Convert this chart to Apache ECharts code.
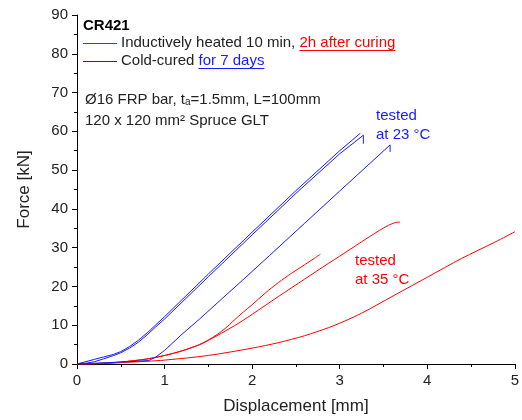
<!DOCTYPE html>
<html>
<head>
<meta charset="utf-8">
<script src="https://cdn.jsdelivr.net/npm/echarts@6/dist/echarts.min.js"></script>
<style>
  html, body { margin: 0; padding: 0; background: #fff; }
  #chart { width: 522px; height: 420px; }
</style>
</head>
<body>
<div id="chart"></div>
<script>
// displacement [mm], force [kN]
var coldA = [[0,0],[0.1,0.6],[0.2,1.2],[0.3,1.8],[0.42,2.5],[0.5,3.2],[0.6,4.5],[0.7,6.1],[0.8,8.0],[0.9,10.1],[1.0,12.2],[1.5,23.2],[2.0,34.0],[2.5,44.7],[3.0,55.0],[3.235,59.5]];
var coldB = [[0,0],[0.1,0.2],[0.2,0.6],[0.3,1.3],[0.42,2.2],[0.5,2.9],[0.6,4.1],[0.7,5.6],[0.8,7.5],[0.9,9.6],[1.0,11.6],[1.5,22.5],[2.0,33.3],[2.5,44.0],[3.0,54.2],[3.27,59.0],[3.27,56.8]];
var coldC = [[0,0],[0.2,0.2],[0.4,0.4],[0.6,0.6],[0.82,0.9],[0.9,1.8],[1.0,3.5],[1.2,7.7],[1.4,11.6],[1.6,15.7],[1.89,21.6],[2.2,28.0],[2.6,36.3],[3.0,44.6],[3.3,50.8],[3.576,56.5],[3.576,54.7]];
var heatA = [[0,0],[0.1,0],[0.3,0.2],[0.5,0.5],[0.8,1.3],[1.0,2.2],[1.2,3.4],[1.4,5.0],[1.5,6.2],[1.6,7.6],[1.7,9.3],[1.78,11.0],[1.9,13.4],[2.0,15.3],[2.15,18.3],[2.3,21.0],[2.45,23.4],[2.6,25.6],[2.7,27.1],[2.78,28.3]];
var heatB = [[0,0],[0.1,0],[0.3,0.2],[0.5,0.5],[0.8,1.3],[1.0,2.2],[1.2,3.4],[1.4,5.0],[1.5,6.1],[1.6,7.3],[1.7,8.6],[1.8,9.9],[1.9,11.3],[2.0,12.8],[2.15,15.1],[2.3,17.4],[2.6,21.9],[2.875,26.0],[3.0,27.8],[3.25,31.5],[3.45,34.4],[3.56,35.8],[3.64,36.5],[3.69,36.6]];
var heatC = [[0,0],[0.3,0.1],[0.5,0.35],[0.8,0.7],[1.0,1.0],[1.5,2.2],[2.0,4.1],[2.3,5.5],[2.6,7.3],[2.875,9.4],[3.06,11.1],[3.25,13.1],[3.63,17.8],[4.01,22.5],[4.39,27.2],[4.77,31.4],[5.0,34.1]];

var RED = '#ff0000';
var BLUE = '#1a1aff';
var FONT = 'Liberation Sans';
var FS = 15;

var chart = echarts.init(document.getElementById('chart'));

function curve(data, color, smooth) {
  return {
    type: 'line', data: data, showSymbol: false, smooth: smooth,
    lineStyle: {color: color, width: 1}, silent: true, animation: false
  };
}

function axisBase() {
  return {
    type: 'value',
    axisLine: {show: true, lineStyle: {color: '#000', width: 1}},
    axisTick: {show: true, inside: false, length: 5, lineStyle: {color: '#000'}},
    minorTick: {show: true, splitNumber: 2, length: 3, lineStyle: {color: '#000'}},
    splitLine: {show: false},
    axisLabel: {color: '#222', fontSize: 15, fontFamily: FONT, margin: 9},
    nameLocation: 'middle',
    nameTextStyle: {color: '#222', fontSize: 17, fontFamily: FONT}
  };
}

var xAxis = axisBase();
xAxis.min = 0; xAxis.max = 5; xAxis.interval = 1;
xAxis.name = 'Displacement [mm]'; xAxis.nameGap = 34;

var yAxis = axisBase();
yAxis.min = 0; yAxis.max = 90; yAxis.interval = 10;
yAxis.name = 'Force [kN]'; yAxis.nameGap = 44;

// measure text so the underlines sit under the coloured words
var ctx = document.createElement('canvas').getContext('2d');
ctx.font = FS + 'px "' + FONT + '"';
function w(s) { return ctx.measureText(s).width; }

var txt = {fill: '#222', fontSize: FS, fontFamily: FONT};
var legX = 121;
var pre1 = 'Inductively heated 10 min, ', u1 = '2h after curing';
var pre2 = 'Cold-cured ', u2 = 'for 7 days';

chart.setOption({
  animation: false,
  grid: {left: 77, right: 5, top: 15, bottom: 56, containLabel: false},
  xAxis: xAxis,
  yAxis: yAxis,
  series: [
    curve(heatC, RED, 0.3), curve(heatB, RED, 0.3), curve(heatA, RED, 0.3),
    curve(coldC, BLUE, false), curve(coldB, BLUE, false), curve(coldA, BLUE, false)
  ],
  graphic: [
    {type: 'text', left: 83, top: 18, style: Object.assign({}, txt, {text: 'CR421', fontWeight: 'bold', fill: '#000'})},
    {type: 'line', shape: {x1: 83, y1: 43.5, x2: 117, y2: 43.5}, style: {stroke: RED, lineWidth: 1}},
    {type: 'line', shape: {x1: 83, y1: 61.5, x2: 117, y2: 61.5}, style: {stroke: BLUE, lineWidth: 1}},
    {type: 'text', left: legX, top: 35, style: Object.assign({}, txt, {
      text: pre1 + '{u|' + u1 + '}',
      rich: {u: {fill: RED, fontSize: FS, fontFamily: FONT}}
    })},
    {type: 'line', shape: {x1: legX + w(pre1), y1: 50.5, x2: legX + w(pre1 + u1), y2: 50.5}, style: {stroke: RED, lineWidth: 1}},
    {type: 'text', left: legX, top: 53, style: Object.assign({}, txt, {
      text: pre2 + '{u|' + u2 + '}',
      rich: {u: {fill: BLUE, fontSize: FS, fontFamily: FONT}}
    })},
    {type: 'line', shape: {x1: legX + w(pre2), y1: 68.5, x2: legX + w(pre2 + u2), y2: 68.5}, style: {stroke: BLUE, lineWidth: 1}},
    {type: 'text', left: 85, top: 92, style: Object.assign({}, txt, {
      text: 'Ø16 FRP bar, t{s|a}=1.5mm, L=100mm',
      rich: {s: {fill: '#222', fontSize: 10, fontFamily: FONT, padding: [0, 0, -6, 0]}}
    })},
    {type: 'text', left: 85, top: 113, style: Object.assign({}, txt, {text: '120 x 120 mm² Spruce GLT'})},
    {type: 'text', left: 376, top: 106, style: Object.assign({}, txt, {text: 'tested\nat 23 °C', fill: BLUE, lineHeight: 19})},
    {type: 'text', left: 355, top: 251, style: Object.assign({}, txt, {text: 'tested\nat 35 °C', fill: RED, lineHeight: 19})}
  ]
});
</script>
</body>
</html>
